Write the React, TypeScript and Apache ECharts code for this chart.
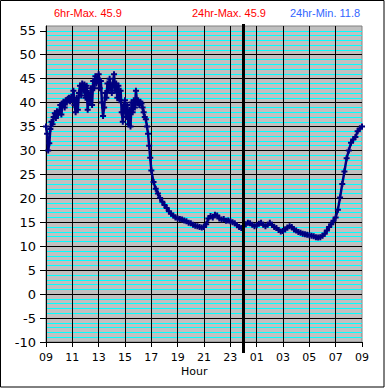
import React, { useEffect, useRef } from "react";
import * as echarts from "echarts";

// 5-minute readings, 09:00 - 16:55
const dayTemps = [
  35.0, 33.5, 30.0, 31.5, 34.5, 36.0, 35.5, 37.0, 37.8, 36.8, 38.2, 37.5,
  38.0, 39.5, 37.5, 39.8, 40.2, 39.0, 40.5, 40.0, 40.8, 41.0, 40.3, 41.2,
  40.5, 42.5, 39.5, 38.0, 41.0, 38.5, 42.0, 43.5, 41.5, 44.0, 42.5, 43.8,
  41.0, 43.5, 38.5, 42.0, 40.0, 43.0, 39.5, 44.5, 43.0, 45.5, 44.0, 45.2,
  45.9, 43.0, 44.5, 40.0, 37.2, 39.0, 42.0, 41.0, 44.0, 42.5, 45.0, 43.5,
  42.0, 44.0, 45.9, 42.5, 44.0, 41.0, 43.5, 40.5, 42.5, 38.0, 36.0, 39.5,
  40.5, 37.0, 39.5, 35.5, 38.5, 35.0, 40.0, 38.0, 40.5, 39.0, 42.5, 40.0,
  40.5, 39.5, 40.2, 39.8, 39.0, 38.0, 37.0, 36.5, 35.0, 33.5, 31.0, 28.5,
];

// 10-minute readings, 17:00 - 09:00 next day
const nightTemps = [
  25.8, 23.4, 22.0, 21.0, 20.1, 19.3,
  18.6, 18.0, 17.3, 16.8, 16.4, 16.0,
  15.8, 15.7, 15.6, 15.4, 15.2, 14.9,
  14.8, 14.5, 14.3, 14.2, 14.0, 13.9,
  14.0, 14.6, 15.8, 16.3, 16.0, 16.6,
  16.4, 15.8, 15.6, 15.7, 15.3, 15.4,
  15.2, 15.0, 14.8, 14.4, 14.0, 13.8,
  14.2, 14.6, 14.9, 14.8, 14.5, 14.2,
  14.4, 14.7, 14.9, 14.5, 14.2, 14.5,
  14.9, 14.5, 14.0, 13.8, 13.4, 13.1,
  13.2, 13.5, 13.9, 14.2, 14.0, 13.5,
  13.3, 13.0, 12.8, 12.6, 12.5, 12.4,
  12.3, 12.2, 12.1, 11.9, 11.8, 11.9,
  12.2, 12.6, 13.3, 14.0, 14.6, 15.3,
  16.0, 17.6, 20.2, 23.0, 25.6, 28.4,
  30.0, 31.6, 32.3, 32.8, 34.0, 34.6,
  35.0,
];

const hourLabels = ["09", "11", "13", "15", "17", "19", "21", "23", "01", "03", "05", "07", "09"];
const hourTickValues = [0, 2, 4, 6, 8, 10, 12, 14, 16, 18, 20, 22, 24];
const yTicks = [-10, -5, 0, 5, 10, 15, 20, 25, 30, 35, 40, 45, 50, 55];
const midnightHour = 15;
const titles = [
  { text: "6hr-Max. 45.9", color: "#ff0000" },
  { text: "24hr-Max. 45.9", color: "#ff0000" },
  { text: "24hr-Min. 11.8", color: "#3366ff" },
];

export default function App() {
  const ref = useRef<HTMLDivElement>(null);
  useEffect(() => {
    if (!ref.current) return;
    const chart = echarts.init(ref.current, null, { renderer: "svg" });
    const points: [number, number][] = [
      ...dayTemps.map((v, i) => [(i * 5) / 60, v] as [number, number]),
      ...nightTemps.map((v, i) => [8 + (i * 10) / 60, v] as [number, number]),
    ];
    const titleLefts = [54, 192, 290];
    chart.setOption({
      animation: false,
      backgroundColor: "#ffffff",
      title: titles.map((t, i) => ({
        text: t.text,
        left: titleLefts[i],
        top: 7,
        padding: 0,
        textStyle: { color: t.color, fontSize: 11, fontWeight: "normal", fontFamily: "Liberation Sans, Arial" },
      })),
      grid: {
        left: 46,
        right: 23,
        top: 26,
        bottom: 46,
        show: true,
        backgroundColor: "#c0c0c0",
        borderColor: "#808080",
        borderWidth: 1,
        containLabel: false,
      },
      xAxis: {
        type: "value",
        min: 0,
        max: 24,
        interval: 1,
        z: 1,
        axisLine: { show: true, onZero: false, lineStyle: { color: "#000", width: 1 } },
        axisTick: { show: true, customValues: hourTickValues, length: 5, lineStyle: { color: "#000" } },
        axisLabel: {
          customValues: hourTickValues,
          formatter: (v: number) => hourLabels[Math.round(v / 2)] ?? "",
          fontFamily: "DejaVu Sans",
          fontSize: 11,
          color: "#000",
          margin: 10,
        },
        splitLine: { show: true, showMinLine: false, showMaxLine: false, lineStyle: { color: "#000", width: 1 } },
      },
      yAxis: [
        {
          type: "value",
          min: -10,
          max: 56,
          interval: 5,
          z: 1,
          axisLine: { show: true, onZero: false, lineStyle: { color: "#000", width: 1 } },
          axisTick: { show: true, customValues: yTicks, length: 6, lineStyle: { color: "#000" } },
          axisLabel: {
            customValues: yTicks,
            fontFamily: "DejaVu Sans",
            fontSize: 13,
            color: "#000",
            margin: 10,
          },
          splitLine: { show: true, showMinLine: false, showMaxLine: false, lineStyle: { color: "#000", width: 1 } },
        },
        {
          type: "value",
          min: -10,
          max: 56,
          interval: 1,
          z: 0,
          axisLine: { show: false },
          axisTick: { show: false },
          axisLabel: { show: false },
          splitLine: { show: true, showMinLine: false, showMaxLine: false, lineStyle: { color: "#00ffff", width: 1 } },
        },
      ],
      series: [
        {
          type: "line",
          yAxisIndex: 0,
          data: points,
          z: 3,
          showAllSymbol: true,
          symbol: "path://M2,0L4,0L4,2L6,2L6,4L4,4L4,6L2,6L2,4L0,4L0,2L2,2Z",
          symbolSize: 6,
          itemStyle: { color: "#000080" },
          lineStyle: { color: "#000080", width: 2.5 },
        },
      ],
    });
    const mx = chart.convertToPixel({ xAxisIndex: 0 }, midnightHour) as number;
    const yTop = chart.convertToPixel({ yAxisIndex: 0 }, 56) as number;
    const yBot = chart.convertToPixel({ yAxisIndex: 0 }, -10) as number;
    chart.setOption({
      graphic: [
        {
          type: "line",
          z: 10,
          shape: { x1: mx, y1: yTop - 2, x2: mx, y2: yBot + 11 },
          style: { stroke: "#000", lineWidth: 3 },
        },
        {
          type: "text",
          left: 181,
          top: 366,
          style: { text: "Hour", fill: "#000", font: "11px 'DejaVu Sans'" },
        },
        {
          type: "rect",
          z: 10,
          shape: { x: 0.5, y: 0.5, width: 383.5, height: 386.5 },
          style: { fill: "none", stroke: "#000", lineWidth: 1 },
        },
      ],
    });
    return () => chart.dispose();
  }, []);
  return (
    <div
      ref={ref}
      style={{ position: "absolute", left: 0, top: 0, width: 385, height: 388 }}
    />
  );
}
